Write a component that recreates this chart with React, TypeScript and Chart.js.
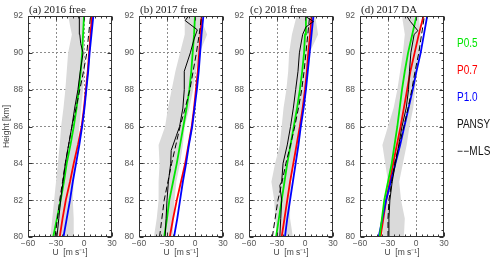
import React, { useEffect, useRef } from 'react';
import { Chart, registerables } from 'chart.js';
Chart.register(...registerables);

// ---------- data ----------
const HEIGHTS = [80, 81, 82, 83, 84, 85, 86, 87, 88, 89, 90, 91, 92];
const X_MIN = -60;
const X_MAX = 30;
const X_STEP = 30;
const Y_MIN = 80;
const Y_MAX = 92;
const Y_STEP = 2;
const PANEL_TITLES = ['(a) 2016 free', '(b) 2017 free', '(c) 2018 free', '(d) 2017 DA'];
const LEGEND_LABELS = ['P0.5', 'P0.7', 'P1.0', 'PANSY', '−−MLS'];
const X_TITLE = 'U  [m s⁻¹]';
const Y_TITLE = 'Height [km]';

// (a) 2016 free
const A_P05 = [-33, -29, -25, -21.5, -18.5, -14.5, -11, -8, -5.5, -3.5, -2, -1, 0];
const A_P07 = [-26, -23, -19.5, -15, -11, -6.5, -2.5, 0, 2, 4, 5.5, 7, 8.5];
const A_P10 = [-22, -18.5, -15, -12, -8.5, -5, -2, 0.5, 2.5, 4.5, 6, 8, 10];
const A_MLS = [-31, -28.5, -26, -23, -20, -16.5, -13, -8.5, -4.5, -0.5, 3, 5, 7];
const A_PANSY_H = [80, 81, 82, 83, 84, 85, 86, 87, 88, 89, 90, 90.5, 91, 92];
const A_PANSY = [-29, -27, -25, -22.5, -20, -16.5, -13, -10, -6.5, -4, -1, -3.5, -4.5, -5];
const A_BAND_LO = [-36, -34, -32, -30, -28, -26, -24.5, -22, -20, -18.5, -17, -13, -17];
const A_BAND_HI = [-11, -11, -12, -11, -9, -7, -5, -3, -1, 0.5, 1, 0.5, 0];

// (b) 2017 free
const B_P05 = [-33, -30, -27.5, -23.5, -19.5, -16, -12.5, -9, -6, -4, -2.5, -1, 0];
const B_P07 = [-27, -23.5, -19.5, -15, -10.5, -7, -3.5, -1, 1, 3, 4.5, 6, 7];
const B_P10 = [-22.5, -19, -16, -13, -9.5, -6.5, -3, -0.5, 2, 4, 5.5, 7, 9];
const B_MLS = [-38, -35.5, -33, -29, -25, -20.5, -16, -10.5, -5.5, -2, 1.5, 4.5, 7];
const B_PANSY_H = [80, 81, 82, 83, 84, 84.7, 85.5, 86, 87, 88, 89, 90, 90.75, 91.25, 91.75, 92];
const B_PANSY = [-32, -31, -30, -28.5, -26, -25.5, -20, -16.5, -13, -11.5, -11.5, -5, -1, 2.5, -10.5, -7];
const B_BAND_LO = [-44, -41, -39, -39, -38, -39, -32, -29, -25, -21, -16, -11, -11];
const B_BAND_HI = [-24, -23, -22, -20, -16, -13, -11, -6, -2, 1, 5, 13, 5];

// (c) 2018 free
const C_P05 = [-31, -28, -25, -22, -19, -15.5, -12, -8.5, -5.5, -3, -1, 0, 1];
const C_P07 = [-25, -22, -19, -16, -12.5, -9, -5.5, -2.5, 0, 2, 3.5, 5.5, 7];
const C_P10 = [-21.5, -19, -16, -13, -10, -7, -4.5, -1.5, 1, 3, 5, 7, 9];
const C_MLS = [-35, -32, -29, -24.5, -20.5, -15.5, -11, -7, -3.5, -1, 1, 3, 5];
const C_PANSY_H = [80, 81, 82, 82.8, 83, 84, 85, 86, 87, 88, 89, 90, 91, 91.4, 91.7, 92];
const C_PANSY = [-27, -26, -25, -27, -25, -23.5, -19, -15.5, -12.5, -10, -7.5, -6, -2.5, 1, 9, 0];
const C_BAND_LO = [-30, -32, -33, -36, -32, -27, -25, -23, -20, -18, -17, -14, -9];
const C_BAND_HI = [-13, -16, -16, -15, -12, -7, -5, -2, 1, 3, 5, 14, 11];

// (d) 2017 DA
const D_P05 = [-39, -36.5, -34, -30, -26, -23, -20, -17.5, -15, -12, -8.5, -4, 0.5];
const D_P07 = [-38, -35, -32, -28, -24.5, -20.5, -16.5, -13, -9.5, -6, -1.5, 3, 8];
const D_P10 = [-40, -36, -32, -27, -22, -17, -12.5, -8, -3.5, 0.5, 5, 8.5, 12];
const D_MLS = [-30, -30, -29, -26, -23, -18, -13, -8.5, -4.5, -1, 3, 6, 9];
const D_PANSY_H = [80, 81, 82, 83, 84, 85, 86, 87, 88, 89, 90, 91, 91.2, 91.7, 92];
const D_PANSY = [-29.5, -29, -28, -25.5, -22, -18.5, -15, -10.5, -8, -7, -5.5, -2, 2, -6, -10];
const D_BAND_LO = [-36, -35, -33, -30, -33, -36, -30, -24, -20, -17, -14, -12, -15];
const D_BAND_HI = [-13, -12, -16, -18, -14, -10, -7, -3, -1, 1, 4, 5, 3];

// ---------- styling ----------
const GREEN = '#00e600';
const RED = '#ff0000';
const BLUE = '#0000ff';
const BLACK = '#000000';
const BAND = '#dadada';
const LEGEND_COLORS = [GREEN, RED, BLUE, '#111', '#111'];
const PANEL_LEFTS = [28, 139, 249, 360];
const AXIS_W = 28;
const PLOT_W = 84;
const PAD_RIGHT = 12;
const CANVAS_H = 262;
const PLOT_TOP = 16;
const X_AXIS_H = 25;
const SANS = "'Liberation Sans', Arial, sans-serif";
const TICK_FONT = 8.5;
const TITLE_FONT = 8.5;

type PanelData = {
  p05: number[]; p07: number[]; p10: number[]; mls: number[];
  pansyH: number[]; pansy: number[]; lo: number[]; hi: number[];
};

const PANELS: PanelData[] = [
  { p05: A_P05, p07: A_P07, p10: A_P10, mls: A_MLS, pansyH: A_PANSY_H, pansy: A_PANSY, lo: A_BAND_LO, hi: A_BAND_HI },
  { p05: B_P05, p07: B_P07, p10: B_P10, mls: B_MLS, pansyH: B_PANSY_H, pansy: B_PANSY, lo: B_BAND_LO, hi: B_BAND_HI },
  { p05: C_P05, p07: C_P07, p10: C_P10, mls: C_MLS, pansyH: C_PANSY_H, pansy: C_PANSY, lo: C_BAND_LO, hi: C_BAND_HI },
  { p05: D_P05, p07: D_P07, p10: D_P10, mls: D_MLS, pansyH: D_PANSY_H, pansy: D_PANSY, lo: D_BAND_LO, hi: D_BAND_HI },
];

const toPts = (xs: number[], hs: number[]) => xs.map((x, i) => ({ x, y: hs[i] }));
const fmt = (v: number) => (v < 0 ? '−' + Math.abs(v) : String(v));

const framePlugin = {
  id: 'frame',
  afterDatasetsDraw(chart: any) {
    const { ctx, chartArea: a, scales } = chart;
    const xs = scales.x;
    const ys = scales.y;
    const L = Math.round(a.left) + 0.5;
    const R = Math.round(a.right) - 0.5;
    const T = Math.round(a.top) + 0.5;
    const B = Math.round(a.bottom) - 0.5;
    ctx.save();
    ctx.strokeStyle = '#333';
    ctx.lineWidth = 1;
    ctx.strokeRect(L, T, R - L, B - T);
    ctx.beginPath();
    const yMinor = Y_STEP / 5;
    for (let k = 0; Y_MIN + k * yMinor <= Y_MAX + 1e-6; k++) {
      const v = Y_MIN + k * yMinor;
      const y = Math.round(ys.getPixelForValue(v)) + 0.5;
      const len = k % 5 === 0 ? 4 : 2;
      ctx.moveTo(L, y); ctx.lineTo(L + len, y);
      ctx.moveTo(R, y); ctx.lineTo(R - len, y);
    }
    const xMinor = X_STEP / 5;
    for (let k = 0; X_MIN + k * xMinor <= X_MAX + 1e-6; k++) {
      const v = X_MIN + k * xMinor;
      const x = Math.round(xs.getPixelForValue(v)) + 0.5;
      const len = k % 5 === 0 ? 4 : 2;
      ctx.moveTo(x, T); ctx.lineTo(x, T + len);
      ctx.moveTo(x, B); ctx.lineTo(x, B - len);
    }
    ctx.stroke();
    ctx.restore();
  },
};

function makeChart(canvas: HTMLCanvasElement, d: PanelData, showYTitle: boolean) {
  const band = [...toPts(d.lo, HEIGHTS), ...toPts(d.hi, HEIGHTS).reverse()];
  const line = (data: any[], color: string, width: number, dash: number[] = []) => ({
    data, borderColor: color, borderWidth: width, borderDash: dash, showLine: true,
    pointRadius: 0, pointHoverRadius: 0, fill: false, tension: 0,
  });
  const gridColor = (lo: number, hi: number) => (ctx: any) =>
    ctx.tick && (ctx.tick.value === lo || ctx.tick.value === hi) ? 'rgba(0,0,0,0)' : '#8c8c8c';
  return new Chart(canvas, {
    type: 'scatter',
    data: {
      datasets: [
        line(toPts(d.pansy, d.pansyH), BLACK, 1),
        line(toPts(d.mls, HEIGHTS), BLACK, 1, [6, 3]),
        line(toPts(d.p05, HEIGHTS), GREEN, 1.8),
        line(toPts(d.p10, HEIGHTS), BLUE, 1.8),
        line(toPts(d.p07, HEIGHTS), RED, 1.8),
        {
          data: band, borderWidth: 0, borderColor: 'rgba(0,0,0,0)', backgroundColor: BAND,
          showLine: true, pointRadius: 0, pointHoverRadius: 0, fill: 'shape', tension: 0,
        },
      ] as any,
    },
    options: {
      animation: false,
      responsive: false,
      events: [],
      layout: { padding: { top: PLOT_TOP, right: PAD_RIGHT, bottom: 0, left: 0 } },
      plugins: { legend: { display: false }, tooltip: { enabled: false } },
      scales: {
        x: {
          type: 'linear', position: 'bottom', min: X_MIN, max: X_MAX,
          ticks: {
            stepSize: X_STEP, autoSkip: false, maxRotation: 0, padding: 2, color: '#555',
            font: { size: TICK_FONT, family: SANS }, callback: (v: any) => fmt(Number(v)),
          },
          grid: { drawTicks: false, color: gridColor(X_MIN, X_MAX), lineWidth: 1 },
          border: { display: false, dash: [2, 2] },
          title: {
            display: true, text: X_TITLE, color: '#444', font: { size: TITLE_FONT, family: SANS },
            padding: { top: 0, bottom: 4 },
          },
          afterFit: (s: any) => { s.height = X_AXIS_H; },
        },
        y: {
          type: 'linear', position: 'left', min: Y_MIN, max: Y_MAX,
          ticks: {
            stepSize: Y_STEP, autoSkip: false, padding: 5, color: '#555',
            font: { size: TICK_FONT, family: SANS }, callback: (v: any) => fmt(Number(v)),
          },
          grid: { drawTicks: false, color: gridColor(Y_MIN, Y_MAX), lineWidth: 1 },
          border: { display: false, dash: [2, 2] },
          title: {
            display: showYTitle, text: Y_TITLE, color: '#444', font: { size: TITLE_FONT, family: SANS },
            padding: { top: 2, bottom: 0 },
          },
          afterFit: (s: any) => { s.width = AXIS_W; },
        },
      },
    } as any,
    plugins: [framePlugin],
  });
}

export default function App() {
  const refs = [useRef<HTMLCanvasElement>(null), useRef<HTMLCanvasElement>(null),
    useRef<HTMLCanvasElement>(null), useRef<HTMLCanvasElement>(null)];
  useEffect(() => {
    const charts = refs.map((r, i) => makeChart(r.current as HTMLCanvasElement, PANELS[i], i === 0));
    return () => charts.forEach((c) => c.destroy());
  }, []);
  const cw = AXIS_W + PLOT_W + PAD_RIGHT;
  return (
    <div style={{ position: 'fixed', left: 0, top: 0, width: 500, height: 262, background: '#fff', overflow: 'hidden' }}>
      {PANEL_LEFTS.map((pl, i) => (
        <canvas key={'c' + i} ref={refs[i]} width={cw} height={CANVAS_H}
          style={{ position: 'absolute', left: pl - AXIS_W, top: 0, width: cw, height: CANVAS_H }} />
      ))}
      {PANEL_LEFTS.map((pl, i) => (
        <div key={'t' + i} style={{
          position: 'absolute', left: pl + 1, top: 3, fontFamily: "'Liberation Serif', 'Times New Roman', serif",
          fontSize: 11, lineHeight: '12px', color: '#222', whiteSpace: 'nowrap',
        }}>{PANEL_TITLES[i]}</div>
      ))}
      {LEGEND_LABELS.map((lab, i) => (
        <div key={'l' + i} style={{
          position: 'absolute', left: 457, top: 37 + i * 27, fontFamily: SANS, fontSize: 10,
          lineHeight: '12px', color: LEGEND_COLORS[i], whiteSpace: 'nowrap',
          transform: 'scaleY(1.2)', transformOrigin: 'left center', letterSpacing: i === 4 ? 0.3 : 0,
        }}>{lab}</div>
      ))}
    </div>
  );
}
